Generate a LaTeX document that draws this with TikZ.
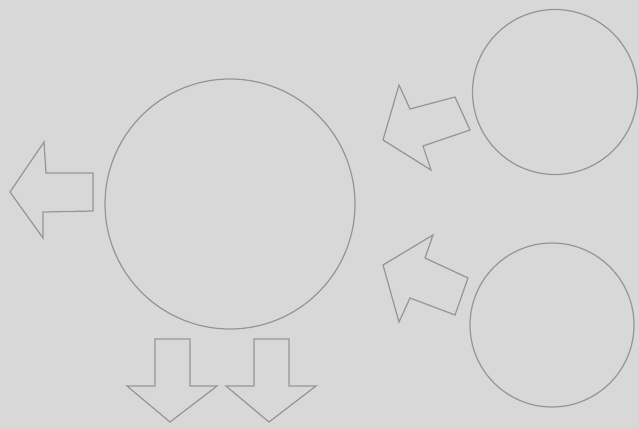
\documentclass[tikz,border=0pt]{standalone}
\usepackage{tikz}
\usetikzlibrary{positioning}

\definecolor{paper}{RGB}{216,216,217}
\definecolor{pencil}{RGB}{150,150,152}

\tikzset{
  blob/.style={draw=pencil, line width=0.7pt, circle, inner sep=0pt},
  blockarrow/.style={draw=pencil, line width=0.7pt, line join=miter}
}

\begin{document}
\begin{tikzpicture}[x=0.02cm, y=-0.02cm]
% paper
\fill[paper] (0,0) rectangle (639,429);
\useasboundingbox (0,0) rectangle (639,429);

% circles
\node[blob, minimum size=5cm] (big) at (230,204) {};
\node[blob, minimum size=3.3cm] (topc) at (555,92) {};
\node[blob, minimum size=3.28cm] (botc) at (552,325) {};

% arrow out to the left
\draw[blockarrow] (93,173) -- (46,173) -- (44,142) -- (10,192) -- (43,238) -- (43,212) -- (93,211) -- cycle;

% arrows from the small circles
\draw[blockarrow] (455,97) -- (410,109) -- (399,85) -- (383,140) -- (431,170) -- (423,146) -- (470,130) -- cycle;
\draw[blockarrow] (468,278) -- (425,258) -- (433,235) -- (383,265) -- (399,322) -- (410,298) -- (455,315) -- cycle;

% arrows down
\foreach \cx in {172,271} {
  \draw[blockarrow] (\cx-17,339) -- (\cx+18,339) -- (\cx+18,386) -- (\cx+45,386)
    -- (\cx-2,422) -- (\cx-45,386) -- (\cx-17,386) -- cycle;
}
\end{tikzpicture}
\end{document}
